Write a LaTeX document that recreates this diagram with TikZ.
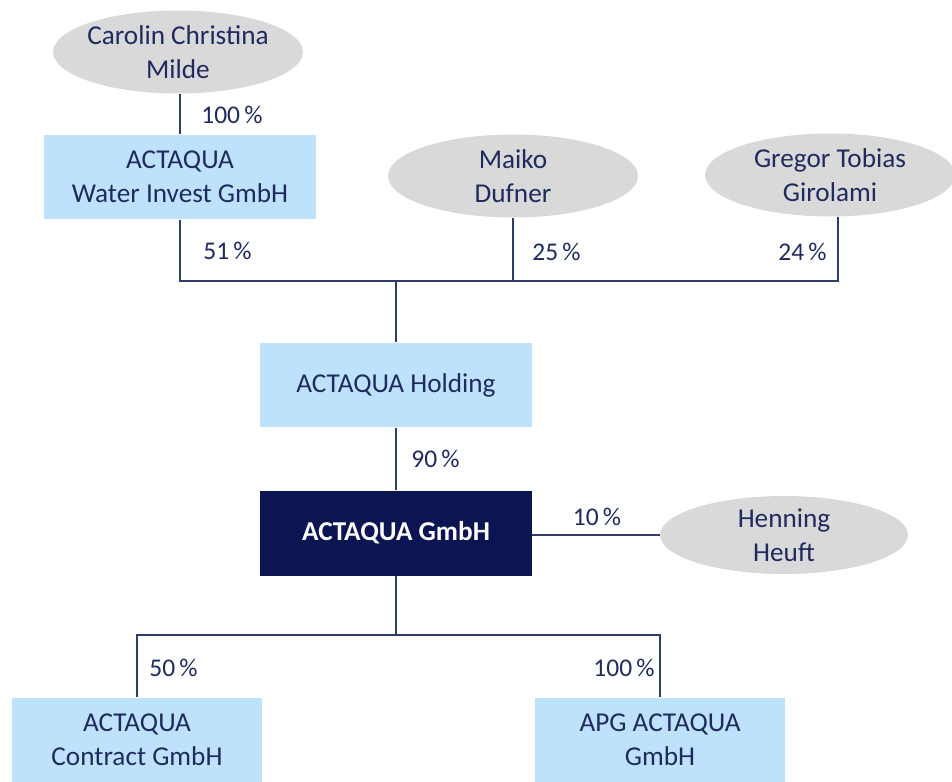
\documentclass[tikz,border=0pt]{standalone}
\usepackage{fontspec}
\setmainfont{Carlito}
\usetikzlibrary{positioning,shapes.geometric}
\definecolor{navyfill}{HTML}{0A1552}
\definecolor{inkblue}{HTML}{1F2B5E}
\definecolor{lineblue}{HTML}{2F3C6E}
\definecolor{firmblue}{HTML}{BEE2FC}
\definecolor{persongray}{HTML}{D9D9D9}
\tikzset{
  firmnode/.style={fill=firmblue, text=inkblue, minimum width=5.44cm, minimum height=1.7cm, align=center, inner sep=0pt},
  subnode/.style={firmnode, minimum width=5.0cm},
  parentnode/.style={firmnode, fill=navyfill, text=white, font=\fontsize{15.5}{19.5}\selectfont\bfseries},
  nametext/.style={text=inkblue, align=center, inner sep=0pt},
  personnode/.style={ellipse, fill=persongray, minimum width=5.0cm, minimum height=1.66cm, inner sep=0pt, label={[nametext]center:#1}},
  ownline/.style={draw=lineblue, line width=0.9pt},
  sharelabel/.style={text=inkblue, inner sep=0pt, font=\fontsize{14.5}{16}\selectfont}
}

\begin{document}
\begin{tikzpicture}[x=0.02cm, y=-0.02cm, every node/.style={font=\fontsize{15.5}{19.5}\selectfont}]
  \useasboundingbox (0,0) rectangle (952,781);
  \node[personnode={Carolin Christina\\Milde}] (milde) at (178,52) {};
  \node[firmnode] (waterinvest) at (180,177) {ACTAQUA\\Water Invest GmbH};
  \node[personnode={Maiko\\Dufner}] (dufner) at (513,176) {};
  \node[personnode={Gregor Tobias\\Girolami}] (girolami) at (830,175) {};
  \node[firmnode] (holding) at (396,385) {ACTAQUA Holding};
  \node[parentnode] (gmbh) at (396,533) {ACTAQUA GmbH};
  \node[personnode={Henning\\Heuft}, minimum width=4.96cm, minimum height=1.56cm] (heuft) at (784,535) {};
  \node[subnode] (contract) at (137,740) {ACTAQUA\\Contract GmbH};
  \node[subnode] (apg) at (660,740) {APG ACTAQUA\\GmbH};

  \coordinate (hub) at (396,281);
  \coordinate (split) at (396,635);
  \coordinate (girotap) at ([xshift=0.16cm]girolami.south);

  \draw[ownline] (waterinvest.north) -- (waterinvest.north |- milde.south);
  \draw[ownline] (waterinvest.south) |- (hub);
  \draw[ownline] (dufner.south) |- (hub);
  \draw[ownline] (girotap) |- (hub);
  \draw[ownline] (hub) -- (holding.north);
  \draw[ownline] (holding) -- (gmbh);
  \draw[ownline] (heuft.west) -- (heuft.west -| gmbh.east);
  \draw[ownline] (gmbh) -- (split);
  \draw[ownline] (split) -| (contract.north);
  \draw[ownline] (split) -| (apg.north);

  \node[sharelabel, anchor=west] (s100a) at (201,115) {100\,\%};
  \node[sharelabel, anchor=west] (s51) at (203,251) {51\,\%};
  \node[sharelabel, anchor=west] (s25) at (532,252) {25\,\%};
  \node[sharelabel, anchor=east] (s24) at (827,252) {24\,\%};
  \node[sharelabel, anchor=west] (s90) at (411,459) {90\,\%};
  \node[sharelabel] (s10) at (597,517) {10\,\%};
  \node[sharelabel, anchor=west] (s50) at (149,668) {50\,\%};
  \node[sharelabel, anchor=east] (s100b) at (655,668) {100\,\%};
\end{tikzpicture}
\end{document}
